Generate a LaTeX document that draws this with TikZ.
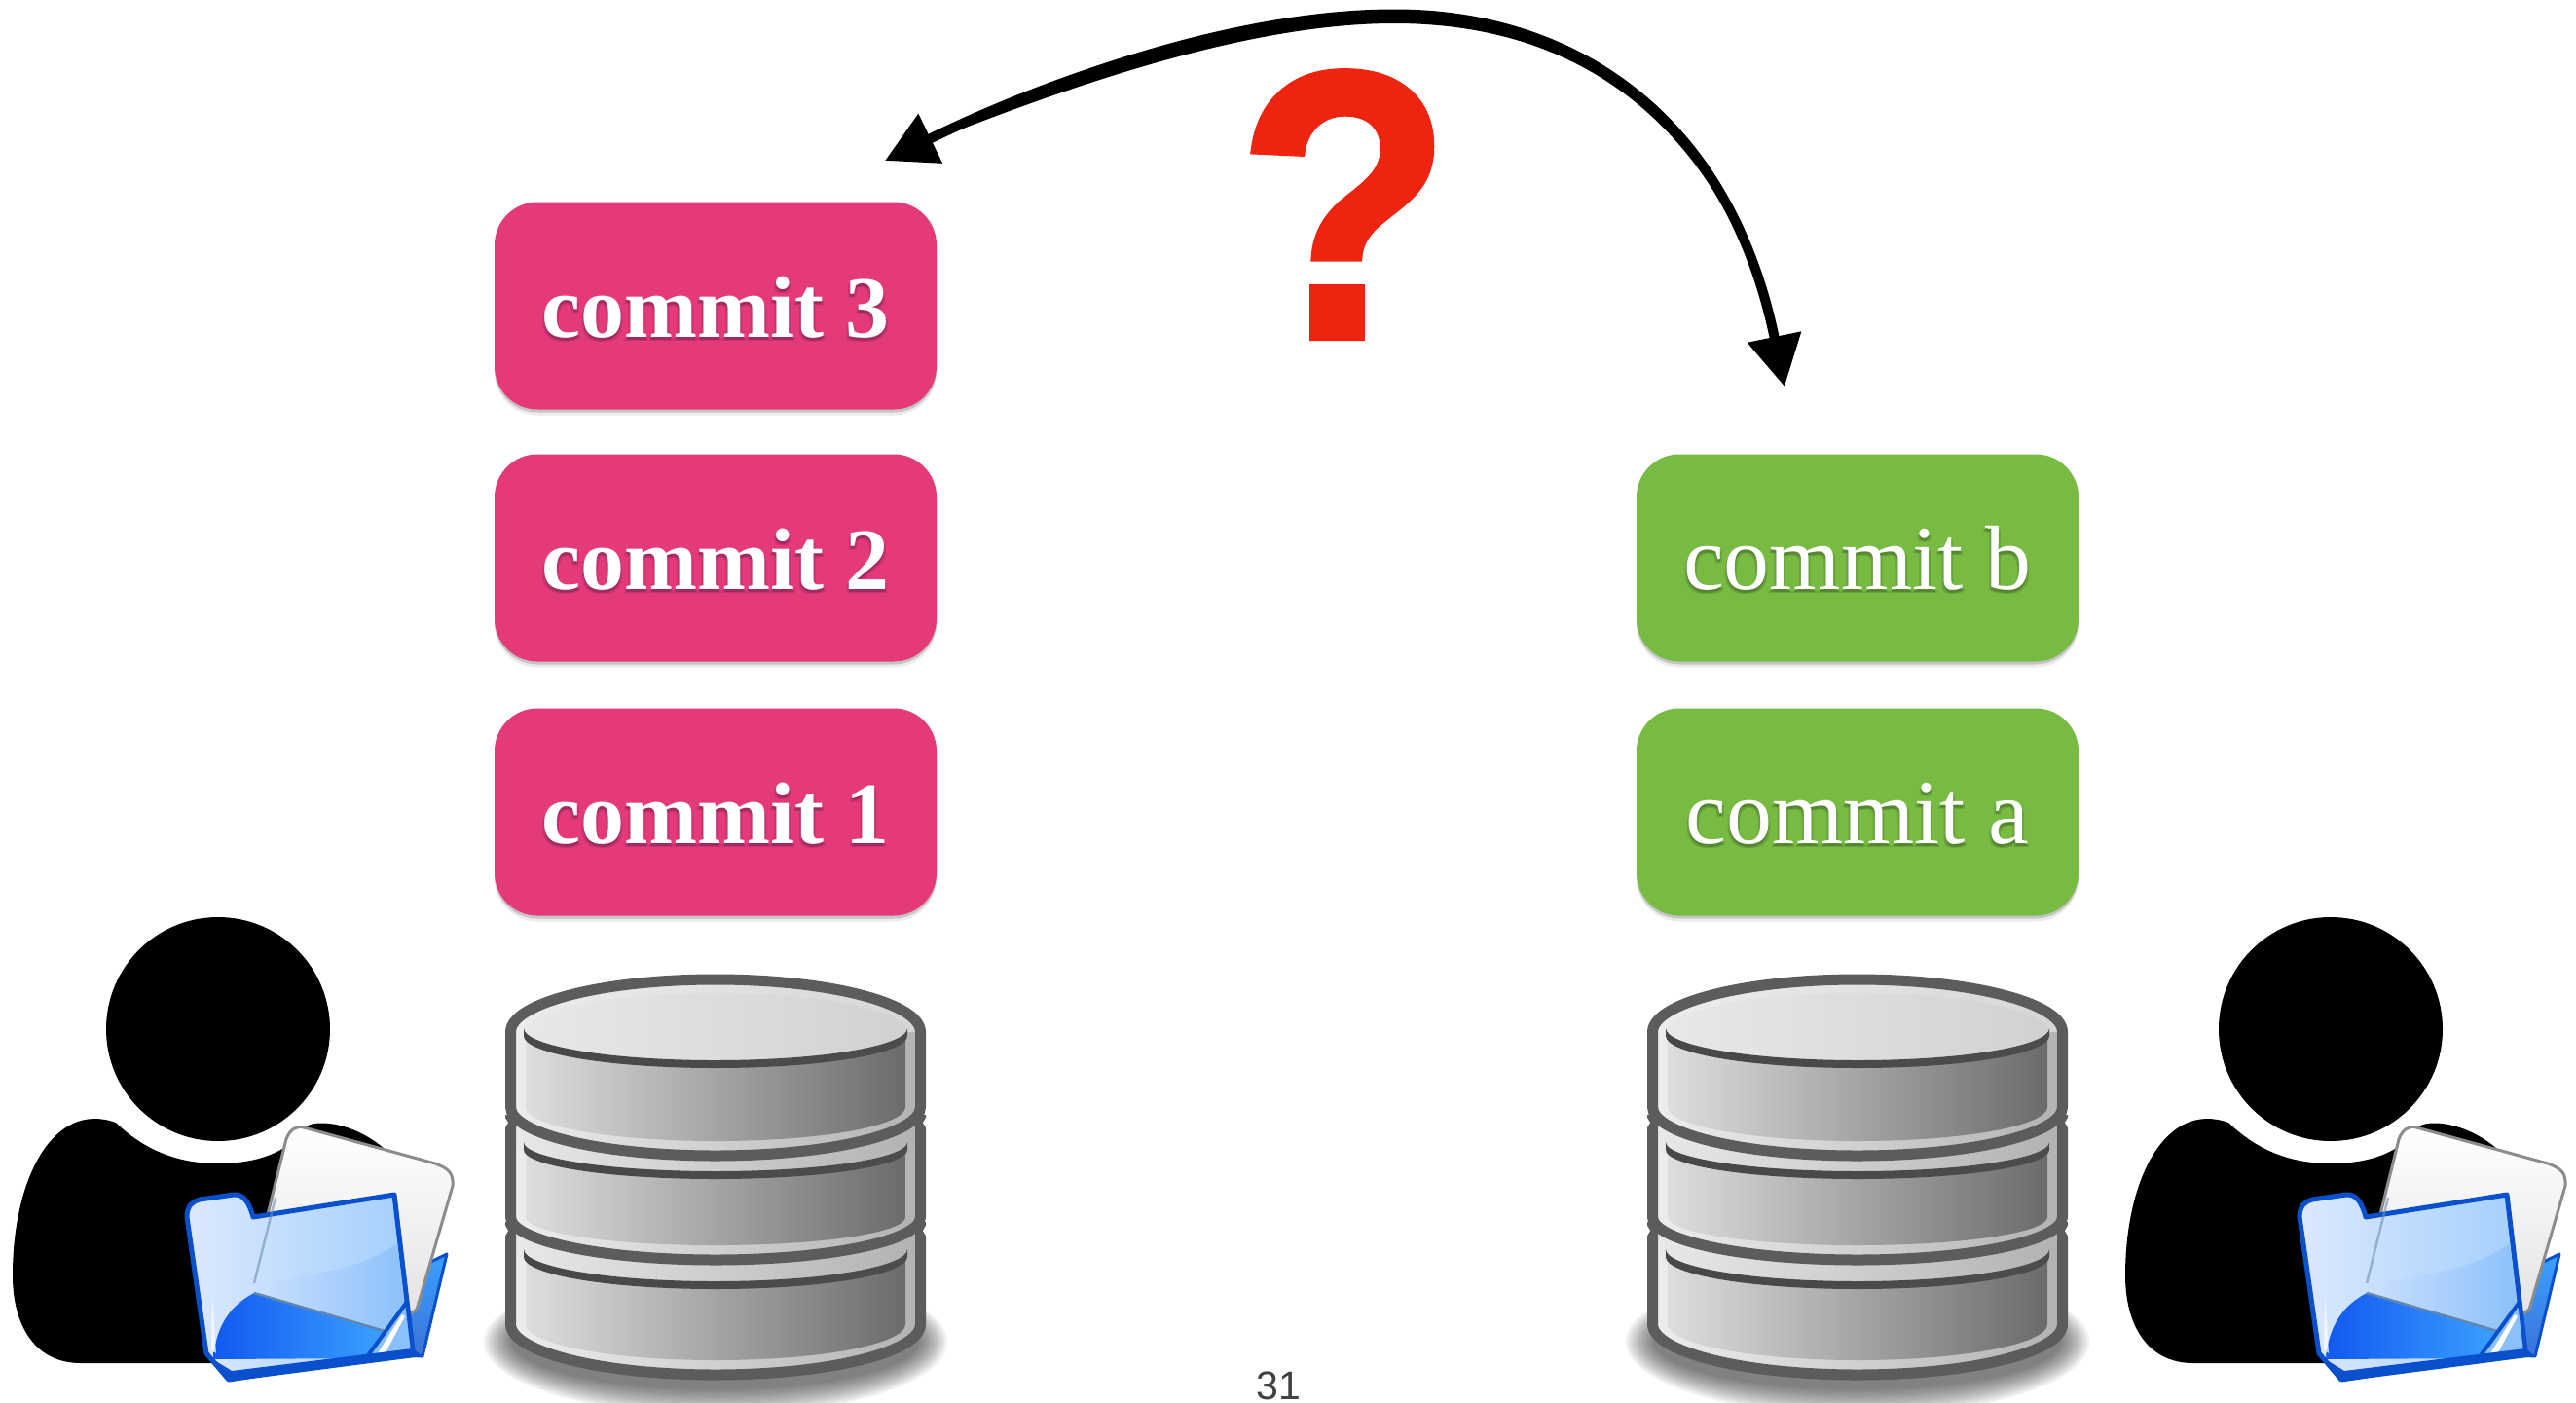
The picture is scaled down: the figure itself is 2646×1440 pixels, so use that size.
\documentclass[tikz,border=0pt]{standalone}
\usepackage{fontspec}
\setmainfont{Liberation Serif}
\setsansfont{Liberation Sans}
\newfontfamily\qfont[BoldFeatures={FakeBold=1.6}]{Liberation Sans}
\usetikzlibrary{arrows.meta,shadows}
\definecolor{pinkbox}{HTML}{E53A79}
\definecolor{greenbox}{HTML}{78BB43}
\definecolor{pinkshade}{HTML}{A32A60}
\definecolor{pinkhalo}{HTML}{C93270}
\definecolor{greenshade}{HTML}{55872F}
\definecolor{greenhalo}{HTML}{68A23A}
\definecolor{qred}{HTML}{EF2410}
\definecolor{dbline}{HTML}{5C5C5C}
\definecolor{folderline}{HTML}{0A50CC}
\definecolor{folderlight}{HTML}{DCE8FE}
\definecolor{foldermid}{HTML}{A2CFFC}
\definecolor{foldertone}{HTML}{8AC0FB}
\definecolor{folderdeep}{HTML}{1259F0}
\definecolor{folderbright}{HTML}{3AA0FF}
\newcommand{\shadetext}[3]{\leavevmode
  \rlap{\smash{\raisebox{-4pt}{\kern-2pt\textcolor{#2}{#3}}}}%
  \rlap{\smash{\raisebox{-4pt}{\kern2pt\textcolor{#2}{#3}}}}%
  \rlap{\smash{\raisebox{-3pt}{\kern0pt\textcolor{#1}{#3}}}}%
  \textcolor{white}{#3}}
% one disc: top edge y, bottom edge y, bottom arc height
\newcommand{\dbdisc}[3]{%
  \path[left color=black!7,right color=black!30] (524.5,#1)--(524.5,#2) arc[start angle=180,end angle=360,x radius=210.5pt,y radius=#3 pt]--(945.5,#1)--cycle;
  \pgfmathsetmacro{\innerry}{#3-15}
  \path[left color=black!13,middle color=black!33,right color=black!58] (540,#1)--(540,#2) arc[start angle=180,end angle=360,x radius=195pt,y radius=\innerry pt]--(930,#1)--cycle;
}
\newcommand{\dbgroove}[2]{%
  \pgfmathsetmacro{\gtop}{#1-4}
  \pgfmathsetmacro{\gbot}{#1+4}
  \path[left color=black!72,middle color=black!48,right color=black!70] (538,\gtop) arc[start angle=180,end angle=360,x radius=197pt,y radius=#2 pt]--(932,\gbot) arc[start angle=0,end angle=-180,x radius=197pt,y radius=#2 pt]--cycle;
}
\tikzset{
  commitbox/.style={rectangle,rounded corners=44pt,minimum width=454pt,minimum height=213pt,inner sep=0pt,
    text height=64pt,text depth=0pt,
    general shadow={fill=black,opacity=.08,shadow yshift=-6pt,shadow xshift=0pt},
    general shadow={fill=black,opacity=.16,shadow yshift=-3pt,shadow xshift=0pt}},
  boldlabel/.style={font=\fontsize{90}{90}\selectfont\bfseries},
  plainlabel/.style={font=\fontsize{94}{94}\selectfont},
  swoop/.style={line width=10pt,{Triangle[length=52pt,width=54pt]}-{Triangle[length=52pt,width=54pt]}},
  dbedge/.style={draw=dbline,line width=11pt,line join=round},
  dbpic/.pic={
    \foreach \i in {0,...,11}{
      \fill[black,opacity=.055] (735,1378) ellipse[x radius={238pt-\i*2.6pt},y radius={76pt-\i*2.4pt}];
    }
    % lower disc
    \dbdisc{1255}{1360}{52}
    \path[left color=black!9,right color=black!30] (531,1255)--(531,1287) arc[start angle=180,end angle=360,x radius=204pt,y radius=30pt]--(939,1255)--cycle;
    \dbgroove{1287}{33}
    \draw[dbedge] (524.5,1255)--(524.5,1360) arc[start angle=180,end angle=360,x radius=210.5pt,y radius=52pt]--(945.5,1255);
    % middle disc
    \dbdisc{1145}{1250}{44}
    \path[left color=black!9,right color=black!30] (531,1145)--(531,1177) arc[start angle=180,end angle=360,x radius=204pt,y radius=30pt]--(939,1145)--cycle;
    \dbgroove{1177}{30}
    \draw[dbedge] (524.5,1145)--(524.5,1250) arc[start angle=180,end angle=360,x radius=210.5pt,y radius=44pt]--(945.5,1250)--(945.5,1145);
    % top disc
    \dbdisc{1060}{1137}{50}
    \path[left color=black!7,right color=black!16] (524.5,1060) arc[start angle=180,end angle=0,x radius=210.5pt,y radius=54pt]--cycle;
    \path[left color=black!9,right color=black!18] (538,1060) arc[start angle=180,end angle=0,x radius=197pt,y radius=40pt] arc[start angle=0,end angle=-180,x radius=197pt,y radius=34pt]--cycle;
    \dbgroove{1060}{33}
    \draw[dbedge] (524.5,1060)--(524.5,1137) arc[start angle=180,end angle=360,x radius=210.5pt,y radius=50pt]--(945.5,1137)--(945.5,1060) arc[start angle=0,end angle=180,x radius=210.5pt,y radius=54pt]--cycle;
    % pinches between discs
    \fill[white] (514,1140)--(522,1153)--(514,1166)--cycle;
    \fill[white] (514,1250)--(522,1264)--(514,1278)--cycle;
    \fill[white] (956,1140)--(948,1153)--(956,1166)--cycle;
    \fill[white] (956,1250)--(948,1264)--(956,1278)--cycle;
  },
  personpic/.pic={
    \fill[black] (224,1057) ellipse[x radius=115pt,y radius=115pt];
    \fill[black] (119,1153) .. controls (150,1183) and (185,1195) .. (224,1195)
      .. controls (262,1195) and (295,1185) .. (314,1158)
      .. controls (320,1150) and (360,1150) .. (395,1180)
      -- (300,1330) -- (225,1400) -- (83,1400)
      .. controls (35,1400) and (13,1360) .. (13,1310)
      .. controls (13,1210) and (55,1130) .. (119,1153) -- cycle;
    % folder back flap
    \path[top color=folderbright,bottom color=folderline!80,draw=folderline,line width=3pt,line join=round]
      (424,1305) -- (459,1288) -- (434,1393) -- (415,1392) -- cycle;
    % paper
    \path[top color=white,bottom color=black!12,draw=black!45,line width=3pt,line join=round]
      (312,1158) -- (447,1195) .. controls (460,1200) and (466,1204) .. (465,1218)
      -- (428,1345) -- (395,1367) -- (266,1330) .. controls (259,1326) and (258,1322) .. (259,1312) -- (294,1170) .. controls (298,1160) and (304,1156) .. (312,1158) -- cycle;
    % folder front
    \path[left color=folderlight,right color=foldermid,draw=folderline,line width=5pt,line join=round]
      (192,1250) .. controls (192,1238) and (198,1234) .. (205,1232) -- (240,1227) .. controls (250,1226) and (256,1235) .. (260,1250)
      -- (405,1227) -- (424,1387) -- (235,1417) -- (212,1390) -- cycle;
    \path[left color=folderlight,right color=foldertone]
      (232,1350) .. controls (270,1300) and (350,1320) .. (408,1277) -- (420,1384) -- (224,1388) -- cycle;
    \path[left color=folderdeep,right color=folderbright]
      (219,1396) .. controls (222,1360) and (238,1340) .. (261,1328) -- (395,1367) -- (380,1395) -- cycle;
    \draw[black!30!foldertone,line width=2.5pt] (261,1328) -- (395,1367);
    \draw[black!30!foldermid,line width=2.5pt,opacity=.6] (261,1318) -- (283,1230);
    \path[fill=foldertone,draw=folderline,line width=4pt,line join=round] (376,1395) -- (418,1337) -- (424,1388) -- cycle;
    \fill[white] (388,1390) -- (413,1350) -- (416,1352) -- (396,1389) -- cycle;
    \fill[folderline] (212,1392) -- (235,1419) -- (434,1393) -- (424,1385) -- (238,1408) -- cycle;
    \fill[white,opacity=.7] (218,1330) -- (222,1390) -- (217,1386) -- cycle;
  }
}
\begin{document}
\begin{tikzpicture}[x=1pt,y=-1pt]
\useasboundingbox (0,0) rectangle (2646,1440);
\pic at (0,0) {personpic};
\pic at (2170,0) {personpic};
\pic at (0,0) {dbpic};
\pic at (1173,0) {dbpic};
\node[commitbox,fill=pinkbox,boldlabel] (c3) at (735,314) {\shadetext{pinkshade}{pinkhalo}{commit 3}};
\node[commitbox,fill=pinkbox,boldlabel] (c2) at (735,573) {\shadetext{pinkshade}{pinkhalo}{commit 2}};
\node[commitbox,fill=pinkbox,boldlabel] (c1) at (735,834) {\shadetext{pinkshade}{pinkhalo}{commit 1}};
\node[commitbox,fill=greenbox,plainlabel] (cb) at (1908,573) {\shadetext{greenshade}{greenhalo}{commit b}};
\node[commitbox,fill=greenbox,plainlabel] (ca) at (1908,834) {\shadetext{greenshade}{greenhalo}{commit a}};
\node[anchor=base,inner sep=0pt,text=qred,font=\fontsize{392}{392}\selectfont\qfont\bfseries,transform shape,xscale=.92] (qm) at (1381,347) {?};
\node[anchor=base,inner sep=0pt,font=\fontsize{41}{41}\selectfont\sffamily,text=black!75] (pg) at (1313,1437) {31};
\coordinate (arrowL) at (909,165);
\coordinate (arrowTop) at (1432,17);
\coordinate (arrowR) at (1833,397);
\draw[swoop] (arrowL) .. controls (1100,72) and (1280,17) .. (arrowTop) .. controls (1640,17) and (1780,140) .. (arrowR);
\fill (956,141) .. controls (1090,70) and (1280,9.5) .. (1432,9.5) .. controls (1640,9.5) and (1787,140) .. (1824,343)
  .. controls (1768,145) and (1640,24) .. (1432,24) .. controls (1285,24) and (1105,86) .. (956,145) -- cycle;
\end{tikzpicture}
\end{document}
